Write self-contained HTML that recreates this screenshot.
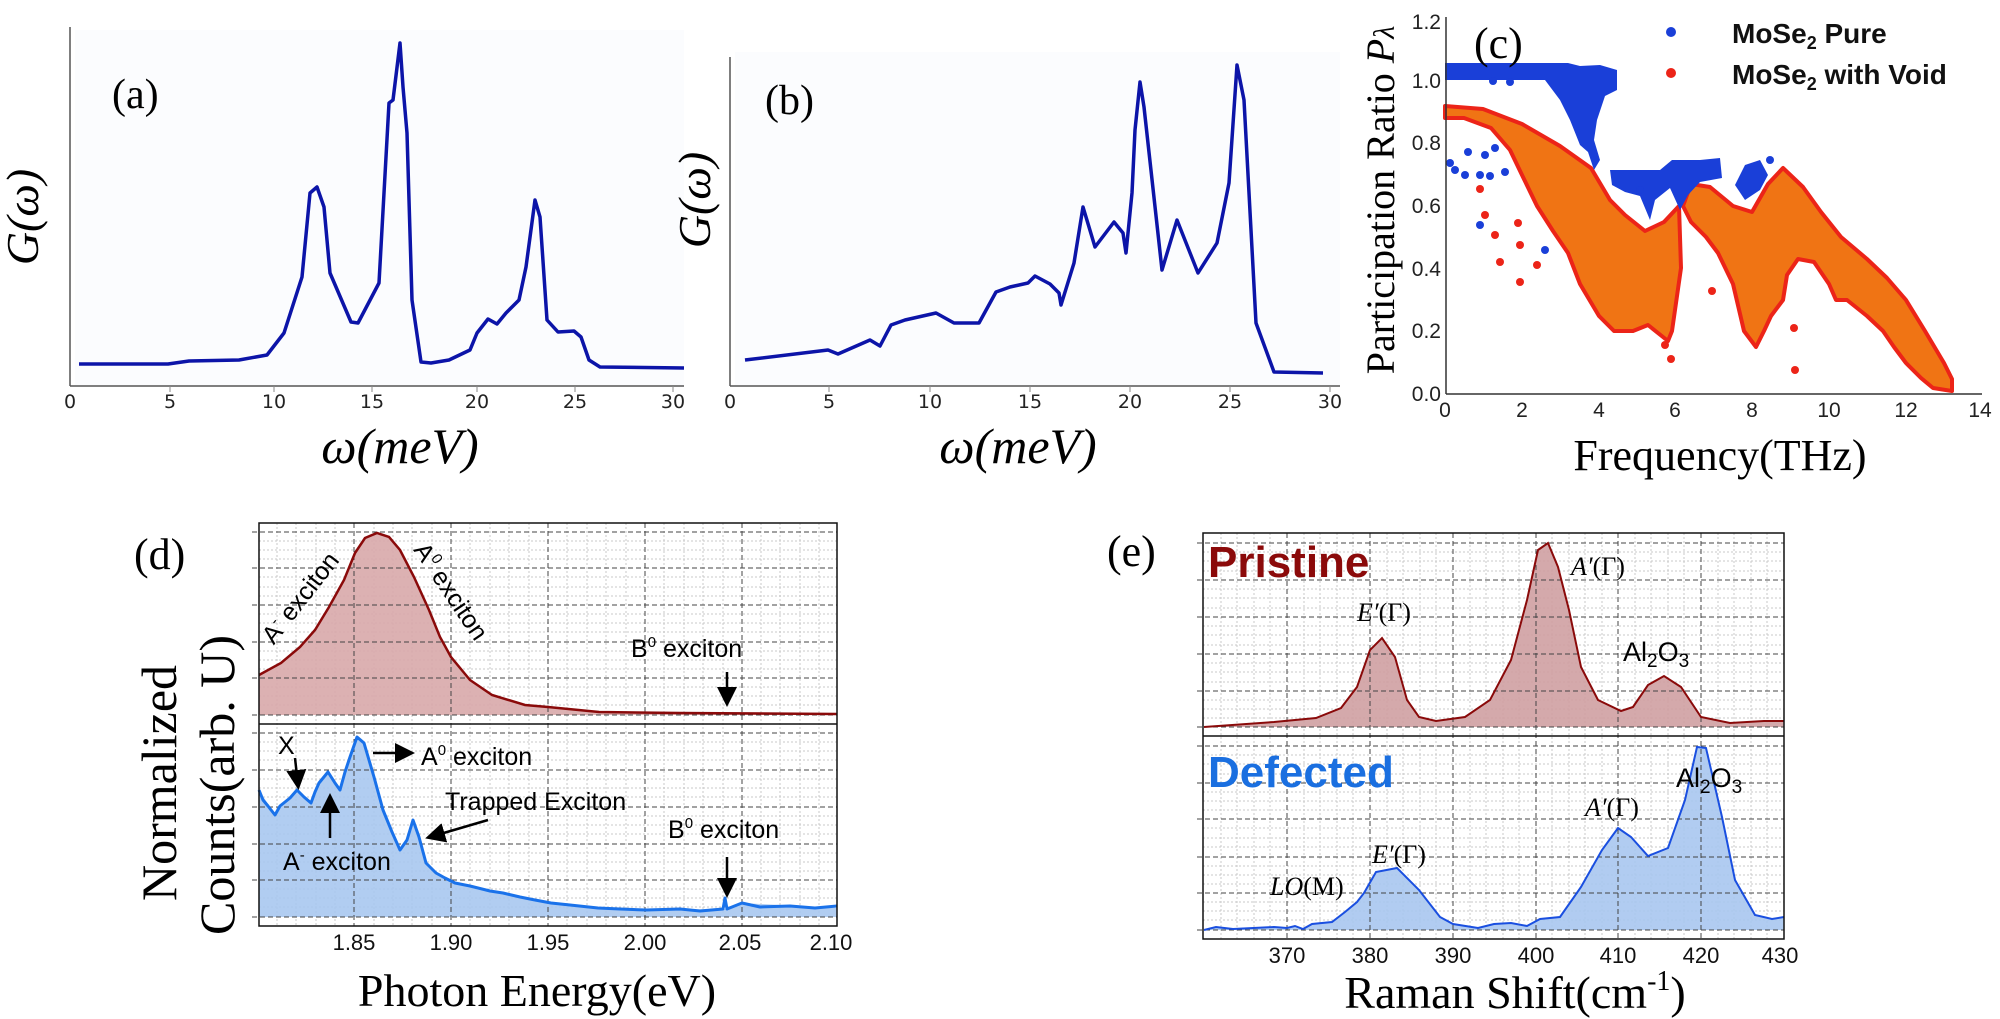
<!DOCTYPE html>
<html><head><meta charset="utf-8"><style>
html,body{margin:0;padding:0;background:#fff;}
svg{display:block;}
.tk{font-family:"DejaVu Sans","Liberation Sans",sans-serif;font-size:19px;fill:#222;}
.nar{font-family:"Liberation Sans Narrow","Liberation Sans",sans-serif;}
.ser{font-family:"Liberation Serif",serif;}
.ann{font-family:"Liberation Sans",sans-serif;font-size:25px;fill:#000;}
</style></head><body>
<svg width="2000" height="1019" viewBox="0 0 2000 1019" xmlns="http://www.w3.org/2000/svg">
<defs>
<marker id="ah" markerWidth="8" markerHeight="8" refX="6" refY="4" orient="auto" markerUnits="strokeWidth">
<path d="M0,0 L8,4 L0,8 z" fill="#000"/></marker>
</defs>

<!-- ===== (a) ===== -->
<rect x="75" y="30" width="609" height="355" fill="#fbfcfe"/>
<line x1="70" y1="27" x2="70" y2="386" stroke="#555" stroke-width="1.5"/>
<line x1="70" y1="386" x2="684" y2="386" stroke="#555" stroke-width="1.5"/>
<g stroke="#888" stroke-width="1">
<line x1="170" y1="386" x2="170" y2="392"/><line x1="274" y1="386" x2="274" y2="392"/><line x1="372" y1="386" x2="372" y2="392"/><line x1="477" y1="386" x2="477" y2="392"/><line x1="575" y1="386" x2="575" y2="392"/><line x1="673" y1="386" x2="673" y2="392"/>
</g>
<g class="tk" text-anchor="middle">
<text x="70" y="408">0</text><text x="170" y="408">5</text><text x="274" y="408">10</text><text x="372" y="408">15</text><text x="477" y="408">20</text><text x="575" y="408">25</text><text x="673" y="408">30</text>
</g>
<polyline fill="none" stroke="#0c14a8" stroke-width="3.5" stroke-linejoin="round" points="79,364 168,364 189,361 239,360 267,355 284,333 302,277 310,193 317,187 324,207 330,273 351,322 358,323 379,283 389,103 393,100 400,43 403,87 407,133 412,300 421,362 431,363 449,360 470,350 477,333 488,319 497,324 506,313 519,300 526,267 535,200 540,217 547,320 558,332 574,331 581,337 589,360 600,367 684,368"/>
<text class="ser" x="112" y="108" font-size="42">(a)</text>
<text class="ser" font-style="italic" font-size="46" text-anchor="middle" transform="translate(38,217) rotate(-90)">G(ω)</text>
<text class="ser" font-style="italic" font-size="50" x="400" y="463" text-anchor="middle">ω(meV)</text>

<!-- ===== (b) ===== -->
<rect x="735" y="52" width="605" height="333" fill="#fbfcfe"/>
<line x1="730" y1="57" x2="730" y2="386" stroke="#555" stroke-width="1.5"/>
<line x1="730" y1="386" x2="1340" y2="386" stroke="#555" stroke-width="1.5"/>
<g stroke="#888" stroke-width="1">
<line x1="829" y1="386" x2="829" y2="392"/><line x1="930" y1="386" x2="930" y2="392"/><line x1="1030" y1="386" x2="1030" y2="392"/><line x1="1130" y1="386" x2="1130" y2="392"/><line x1="1230" y1="386" x2="1230" y2="392"/><line x1="1330" y1="386" x2="1330" y2="392"/>
</g>
<g class="tk" text-anchor="middle">
<text x="730" y="408">0</text><text x="829" y="408">5</text><text x="930" y="408">10</text><text x="1030" y="408">15</text><text x="1130" y="408">20</text><text x="1230" y="408">25</text><text x="1330" y="408">30</text>
</g>
<polyline fill="none" stroke="#0c14a8" stroke-width="3.5" stroke-linejoin="round" points="745,360 828,350 838,354 870,340 880,346 891,325 905,320 936,313 954,323 979,323 996,292 1010,287 1028,283 1035,276 1050,284 1059,293 1061,305 1074,263 1083,207 1095,247 1114,222 1123,233 1126,253 1132,193 1135,130 1140,82 1144,107 1162,270 1177,220 1198,273 1217,243 1229,183 1237,65 1244,100 1256,323 1274,372 1323,373"/>
<text class="ser" x="765" y="114" font-size="42">(b)</text>
<text class="ser" font-style="italic" font-size="46" text-anchor="middle" transform="translate(710,200) rotate(-90)">G(ω)</text>
<text class="ser" font-style="italic" font-size="50" x="1018" y="463" text-anchor="middle">ω(meV)</text>

<!-- ===== (c) ===== -->
<!-- orange blobs -->
<g fill="#f07414" stroke="#ec2418" stroke-width="4" stroke-linejoin="round">
<path d="M1445,106 L1483,109 L1522,124 L1560,146 L1591,168 L1610,200 L1625,215 L1645,231 L1664,222 L1679,206 L1681,268 L1672,331 L1668,341 L1648,325 L1633,331 L1614,331 L1599,316 L1580,284 L1568,253 L1553,231 L1537,206 L1522,175 L1510,150 L1491,128 L1464,118 L1445,118 Z"/>
<path d="M1683,206 L1691,184 L1710,187 L1733,206 L1752,212 L1768,184 L1783,168 L1803,187 L1821,212 L1841,237 L1867,259 L1887,278 L1906,300 L1925,331 L1944,363 L1952,379 L1952,391 L1933,388 L1921,378 L1906,363 L1894,347 L1883,331 L1867,316 L1847,300 L1836,300 L1829,284 L1814,262 L1798,259 L1787,275 L1783,300 L1771,316 L1764,331 L1756,347 L1744,331 L1733,284 L1718,253 L1706,237 L1691,222 Z"/>
</g>
<!-- scattered red dots -->
<g fill="#ec2418">
<circle cx="1480" cy="189" r="4"/><circle cx="1485" cy="215" r="4"/><circle cx="1495" cy="235" r="4"/><circle cx="1500" cy="262" r="4"/><circle cx="1520" cy="245" r="4"/><circle cx="1520" cy="282" r="4"/><circle cx="1537" cy="265" r="4"/><circle cx="1518" cy="223" r="4"/><circle cx="1665" cy="345" r="4"/><circle cx="1671" cy="359" r="4"/><circle cx="1712" cy="291" r="4"/><circle cx="1794" cy="328" r="4"/><circle cx="1795" cy="370" r="4"/>
</g>
<!-- blue -->
<g fill="#1a3fd8">
<path d="M1445,63 L1568,63 L1580,66 L1600,65 L1617,70 L1617,90 L1605,96 L1597,120 L1594,140 L1600,160 L1594,170 L1588,152 L1580,145 L1570,120 L1560,100 L1545,80 L1500,80 L1445,80 Z"/>
<path d="M1610,170 L1640,170 L1660,170 L1672,160 L1700,160 L1720,158 L1722,178 L1700,182 L1688,195 L1680,210 L1670,188 L1655,200 L1650,220 L1640,196 L1625,192 L1612,185 Z"/>
<path d="M1735,185 L1745,165 L1760,160 L1768,175 L1760,190 L1745,200 Z"/>
<circle cx="1450" cy="163" r="4"/><circle cx="1455" cy="170" r="4"/><circle cx="1465" cy="175" r="4"/><circle cx="1468" cy="152" r="4"/><circle cx="1480" cy="175" r="4"/><circle cx="1485" cy="155" r="4"/><circle cx="1490" cy="176" r="4"/><circle cx="1480" cy="225" r="4"/><circle cx="1495" cy="148" r="4"/><circle cx="1505" cy="172" r="4"/><circle cx="1493" cy="81" r="4"/><circle cx="1510" cy="82" r="4"/><circle cx="1545" cy="250" r="4"/><circle cx="1640" cy="190" r="4"/><circle cx="1770" cy="160" r="4"/>
</g>
<line x1="1446" y1="17" x2="1446" y2="394" stroke="#333" stroke-width="1.5"/>
<line x1="1446" y1="394" x2="1982" y2="394" stroke="#333" stroke-width="1.5"/>
<g class="nar" font-size="21" fill="#222" text-anchor="end">
<text x="1441" y="401">0.0</text><text x="1441" y="338">0.2</text><text x="1441" y="276">0.4</text><text x="1441" y="213">0.6</text><text x="1441" y="150">0.8</text><text x="1441" y="88">1.0</text><text x="1441" y="29">1.2</text>
</g>
<g class="nar" font-size="21" fill="#222" text-anchor="middle">
<text x="1445" y="417">0</text><text x="1522" y="417">2</text><text x="1599" y="417">4</text><text x="1675" y="417">6</text><text x="1752" y="417">8</text><text x="1829" y="417">10</text><text x="1906" y="417">12</text><text x="1980" y="417">14</text>
</g>
<text class="ser" font-size="40" text-anchor="middle" transform="translate(1394,200) rotate(-90)">Participation Ratio <tspan font-style="italic">P</tspan><tspan font-style="italic" font-size="30">λ</tspan></text>
<text class="ser" font-size="44" x="1474" y="58">(c)</text>
<text class="ser" font-size="44" x="1720" y="470" text-anchor="middle">Frequency(THz)</text>
<circle cx="1671" cy="32" r="5" fill="#1a3fd8"/>
<circle cx="1671" cy="73" r="5" fill="#ec2418"/>
<text class="nar" font-weight="bold" font-size="28" fill="#111" x="1732" y="43">MoSe<tspan font-size="18" dy="6">2</tspan><tspan dy="-6"> Pure</tspan></text>
<text class="nar" font-weight="bold" font-size="28" fill="#111" x="1732" y="84">MoSe<tspan font-size="18" dy="6">2</tspan><tspan dy="-6"> with Void</tspan></text>

<!-- ===== (d) ===== -->
<g>
<!-- minor grid -->
<g stroke="#c8c8c8" stroke-width="1" stroke-dasharray="2,2">
<line x1="277" y1="523" x2="277" y2="926"/><line x1="296" y1="523" x2="296" y2="926"/><line x1="316" y1="523" x2="316" y2="926"/><line x1="335" y1="523" x2="335" y2="926"/>
<line x1="374" y1="523" x2="374" y2="926"/><line x1="393" y1="523" x2="393" y2="926"/><line x1="412" y1="523" x2="412" y2="926"/><line x1="432" y1="523" x2="432" y2="926"/>
<line x1="470" y1="523" x2="470" y2="926"/><line x1="490" y1="523" x2="490" y2="926"/><line x1="509" y1="523" x2="509" y2="926"/><line x1="529" y1="523" x2="529" y2="926"/>
<line x1="567" y1="523" x2="567" y2="926"/><line x1="587" y1="523" x2="587" y2="926"/><line x1="606" y1="523" x2="606" y2="926"/><line x1="626" y1="523" x2="626" y2="926"/>
<line x1="664" y1="523" x2="664" y2="926"/><line x1="684" y1="523" x2="684" y2="926"/><line x1="703" y1="523" x2="703" y2="926"/><line x1="723" y1="523" x2="723" y2="926"/>
<line x1="761" y1="523" x2="761" y2="926"/><line x1="780" y1="523" x2="780" y2="926"/><line x1="800" y1="523" x2="800" y2="926"/><line x1="819" y1="523" x2="819" y2="926"/>
<line x1="259" y1="541" x2="837" y2="541"/><line x1="259" y1="550" x2="837" y2="550"/><line x1="259" y1="559" x2="837" y2="559"/>
<line x1="259" y1="577" x2="837" y2="577"/><line x1="259" y1="587" x2="837" y2="587"/><line x1="259" y1="596" x2="837" y2="596"/>
<line x1="259" y1="614" x2="837" y2="614"/><line x1="259" y1="623" x2="837" y2="623"/><line x1="259" y1="632" x2="837" y2="632"/>
<line x1="259" y1="651" x2="837" y2="651"/><line x1="259" y1="660" x2="837" y2="660"/><line x1="259" y1="669" x2="837" y2="669"/>
<line x1="259" y1="687" x2="837" y2="687"/><line x1="259" y1="696" x2="837" y2="696"/><line x1="259" y1="705" x2="837" y2="705"/>
<line x1="259" y1="742" x2="837" y2="742"/><line x1="259" y1="751" x2="837" y2="751"/><line x1="259" y1="760" x2="837" y2="760"/>
<line x1="259" y1="779" x2="837" y2="779"/><line x1="259" y1="788" x2="837" y2="788"/><line x1="259" y1="797" x2="837" y2="797"/>
<line x1="259" y1="816" x2="837" y2="816"/><line x1="259" y1="825" x2="837" y2="825"/><line x1="259" y1="834" x2="837" y2="834"/>
<line x1="259" y1="853" x2="837" y2="853"/><line x1="259" y1="862" x2="837" y2="862"/><line x1="259" y1="871" x2="837" y2="871"/>
<line x1="259" y1="889" x2="837" y2="889"/><line x1="259" y1="898" x2="837" y2="898"/><line x1="259" y1="907" x2="837" y2="907"/>
</g>
<!-- fills -->
<path fill="#d8a8aa" fill-opacity="0.9" d="M259,675 L281,663 L300,647 L315,630 L329,607 L344,580 L355,553 L365,538 L377,533 L389,537 L400,550 L414,577 L429,610 L440,637 L451,657 L470,680 L492,695 L525,705 L548,707 L599,712 L680,713 L837,714 L837,715 L259,715 Z"/>
<path fill="#a9c8f0" fill-opacity="0.9" d="M259,790 L275,815 L285,802 L297,790 L304,797 L311,803 L319,783 L328,772 L335,783 L340,790 L350,757 L357,737 L364,743 L374,777 L383,810 L400,850 L407,840 L413,820 L419,837 L426,863 L436,873 L455,883 L503,893 L551,903 L598,908 L646,910 L725,909 L742,903 L837,908 L837,917 L259,917 Z"/>
<!-- major grid -->
<g stroke="#444" stroke-width="1" stroke-dasharray="5,3">
<line x1="354" y1="523" x2="354" y2="926"/><line x1="451" y1="523" x2="451" y2="926"/><line x1="548" y1="523" x2="548" y2="926"/><line x1="645" y1="523" x2="645" y2="926"/><line x1="742" y1="523" x2="742" y2="926"/>
<line x1="252" y1="532" x2="837" y2="532"/><line x1="252" y1="568" x2="837" y2="568"/><line x1="252" y1="605" x2="837" y2="605"/><line x1="252" y1="642" x2="837" y2="642"/><line x1="252" y1="678" x2="837" y2="678"/><line x1="252" y1="715" x2="837" y2="715"/>
<line x1="252" y1="733" x2="837" y2="733"/><line x1="252" y1="770" x2="837" y2="770"/><line x1="252" y1="807" x2="837" y2="807"/><line x1="252" y1="844" x2="837" y2="844"/><line x1="252" y1="880" x2="837" y2="880"/><line x1="252" y1="917" x2="837" y2="917"/>
</g>
<polyline fill="none" stroke="#8a0a0a" stroke-width="2.5" points="259,675 281,663 300,647 315,630 329,607 344,580 355,553 365,538 377,533 389,537 400,550 414,577 429,610 440,637 451,657 470,680 492,695 525,705 548,707 599,712 680,713 837,714"/>
<polyline fill="none" stroke="#1a72ea" stroke-width="3" stroke-linejoin="round" points="259,790 263,800 268,806 275,815 280,806 285,802 290,798 297,790 304,797 311,803 315,792 319,783 328,772 335,783 340,790 345,772 350,757 357,737 364,743 369,760 374,777 383,810 392,832 400,850 407,840 413,820 419,837 426,863 436,873 445,878 455,883 470,886 490,891 503,893 520,897 535,900 551,903 570,905 598,908 620,909 646,910 680,909 700,911 723,909 725,898 727,909 742,903 760,907 790,906 815,908 837,906"/>
<rect x="259" y="523" width="578" height="403" fill="none" stroke="#111" stroke-width="1.5"/>
<line x1="259" y1="724" x2="837" y2="724" stroke="#111" stroke-width="1.5"/>
</g>
<g class="nar" font-size="22" fill="#111" text-anchor="middle">
<text x="354" y="950">1.85</text><text x="451" y="950">1.90</text><text x="548" y="950">1.95</text><text x="645" y="950">2.00</text><text x="740" y="950">2.05</text><text x="831" y="950">2.10</text>
</g>
<text class="ann" transform="translate(307,603) rotate(-52)" text-anchor="middle">A<tspan font-size="15" dy="-10">-</tspan><tspan dy="10"> exciton</tspan></text>
<text class="ann" transform="translate(444,596) rotate(56)" text-anchor="middle">A<tspan font-size="15" dy="-10">0</tspan><tspan dy="10"> exciton</tspan></text>
<text class="ann" x="631" y="657">B<tspan font-size="15" dy="-10">0</tspan><tspan dy="10"> exciton</tspan></text>
<line x1="727" y1="672" x2="727" y2="702" stroke="#000" stroke-width="2.5" marker-end="url(#ah)"/>
<text class="ann" x="278" y="754">X</text>
<line x1="295" y1="758" x2="298" y2="785" stroke="#000" stroke-width="2.5" marker-end="url(#ah)"/>
<text class="ann" x="421" y="765">A<tspan font-size="15" dy="-10">0</tspan><tspan dy="10"> exciton</tspan></text>
<line x1="373" y1="753" x2="410" y2="753" stroke="#000" stroke-width="2.5" marker-end="url(#ah)"/>
<line x1="330" y1="838" x2="330" y2="798" stroke="#000" stroke-width="2.5" marker-end="url(#ah)"/>
<text class="ann" x="283" y="870">A<tspan font-size="15" dy="-10">-</tspan><tspan dy="10"> exciton</tspan></text>
<text class="ann" x="445" y="810">Trapped Exciton</text>
<line x1="488" y1="820" x2="430" y2="837" stroke="#000" stroke-width="2.5" marker-end="url(#ah)"/>
<text class="ann" x="668" y="838">B<tspan font-size="15" dy="-10">0</tspan><tspan dy="10"> exciton</tspan></text>
<line x1="727" y1="857" x2="727" y2="893" stroke="#000" stroke-width="2.5" marker-end="url(#ah)"/>
<text class="ser" font-size="44" x="134" y="569">(d)</text>
<text class="ser" font-size="50" text-anchor="middle" transform="translate(176,783) rotate(-90)">Normalized</text>
<text class="ser" font-size="50" text-anchor="middle" transform="translate(234,785) rotate(-90)">Counts(arb. U)</text>
<text class="ser" font-size="46" x="537" y="1006" text-anchor="middle">Photon Energy(eV)</text>

<!-- ===== (e) ===== -->
<g>
<g stroke="#c8c8c8" stroke-width="1" stroke-dasharray="2,2">
<line x1="1221" y1="533" x2="1221" y2="939"/><line x1="1237" y1="533" x2="1237" y2="939"/><line x1="1254" y1="533" x2="1254" y2="939"/><line x1="1270" y1="533" x2="1270" y2="939"/>
<line x1="1304" y1="533" x2="1304" y2="939"/><line x1="1320" y1="533" x2="1320" y2="939"/><line x1="1337" y1="533" x2="1337" y2="939"/><line x1="1353" y1="533" x2="1353" y2="939"/>
<line x1="1387" y1="533" x2="1387" y2="939"/><line x1="1403" y1="533" x2="1403" y2="939"/><line x1="1420" y1="533" x2="1420" y2="939"/><line x1="1436" y1="533" x2="1436" y2="939"/>
<line x1="1470" y1="533" x2="1470" y2="939"/><line x1="1486" y1="533" x2="1486" y2="939"/><line x1="1503" y1="533" x2="1503" y2="939"/><line x1="1519" y1="533" x2="1519" y2="939"/>
<line x1="1552" y1="533" x2="1552" y2="939"/><line x1="1569" y1="533" x2="1569" y2="939"/><line x1="1585" y1="533" x2="1585" y2="939"/><line x1="1602" y1="533" x2="1602" y2="939"/>
<line x1="1635" y1="533" x2="1635" y2="939"/><line x1="1651" y1="533" x2="1651" y2="939"/><line x1="1668" y1="533" x2="1668" y2="939"/><line x1="1684" y1="533" x2="1684" y2="939"/>
<line x1="1718" y1="533" x2="1718" y2="939"/><line x1="1734" y1="533" x2="1734" y2="939"/><line x1="1751" y1="533" x2="1751" y2="939"/><line x1="1767" y1="533" x2="1767" y2="939"/>
<line x1="1203" y1="552" x2="1784" y2="552"/><line x1="1203" y1="561" x2="1784" y2="561"/><line x1="1203" y1="571" x2="1784" y2="571"/>
<line x1="1203" y1="589" x2="1784" y2="589"/><line x1="1203" y1="598" x2="1784" y2="598"/><line x1="1203" y1="608" x2="1784" y2="608"/>
<line x1="1203" y1="626" x2="1784" y2="626"/><line x1="1203" y1="635" x2="1784" y2="635"/><line x1="1203" y1="645" x2="1784" y2="645"/>
<line x1="1203" y1="663" x2="1784" y2="663"/><line x1="1203" y1="672" x2="1784" y2="672"/><line x1="1203" y1="682" x2="1784" y2="682"/>
<line x1="1203" y1="700" x2="1784" y2="700"/><line x1="1203" y1="709" x2="1784" y2="709"/><line x1="1203" y1="718" x2="1784" y2="718"/>
<line x1="1203" y1="755" x2="1784" y2="755"/><line x1="1203" y1="764" x2="1784" y2="764"/><line x1="1203" y1="774" x2="1784" y2="774"/>
<line x1="1203" y1="792" x2="1784" y2="792"/><line x1="1203" y1="801" x2="1784" y2="801"/><line x1="1203" y1="810" x2="1784" y2="810"/>
<line x1="1203" y1="828" x2="1784" y2="828"/><line x1="1203" y1="838" x2="1784" y2="838"/><line x1="1203" y1="847" x2="1784" y2="847"/>
<line x1="1203" y1="866" x2="1784" y2="866"/><line x1="1203" y1="875" x2="1784" y2="875"/><line x1="1203" y1="884" x2="1784" y2="884"/>
<line x1="1203" y1="902" x2="1784" y2="902"/><line x1="1203" y1="911" x2="1784" y2="911"/><line x1="1203" y1="920" x2="1784" y2="920"/>
</g>
<path fill="#cfa0a2" fill-opacity="0.9" d="M1204,727 L1274,722 L1316,718 L1341,708 L1357,687 L1370,650 L1382,638 L1395,657 L1407,700 L1419,717 L1436,721 L1465,717 L1490,700 L1511,660 L1527,600 L1538,550 L1548,543 L1558,567 L1569,610 L1581,667 L1598,700 L1621,711 L1633,707 L1648,685 L1664,676 L1681,687 L1701,717 L1730,723 L1764,721 L1784,721 L1784,727 Z"/>
<path fill="#a9c6f0" fill-opacity="0.9" d="M1204,930 L1216,927 L1233,929 L1274,927 L1287,928 L1295,926 L1303,929 L1312,924 L1332,922 L1345,912 L1357,902 L1364,893 L1376,872 L1397,868 L1419,890 L1440,917 L1453,924 L1478,928 L1494,924 L1511,923 L1527,926 L1540,919 L1560,917 L1581,887 L1602,850 L1618,828 L1631,837 L1648,856 L1668,848 L1685,800 L1697,747 L1706,748 L1722,817 L1735,880 L1755,915 L1772,919 L1784,917 L1784,930 Z"/>
<g stroke="#444" stroke-width="1" stroke-dasharray="5,3">
<line x1="1287" y1="533" x2="1287" y2="939"/><line x1="1370" y1="533" x2="1370" y2="939"/><line x1="1453" y1="533" x2="1453" y2="939"/><line x1="1536" y1="533" x2="1536" y2="939"/><line x1="1618" y1="533" x2="1618" y2="939"/><line x1="1701" y1="533" x2="1701" y2="939"/>
<line x1="1197" y1="543" x2="1784" y2="543"/><line x1="1197" y1="580" x2="1784" y2="580"/><line x1="1197" y1="617" x2="1784" y2="617"/><line x1="1197" y1="654" x2="1784" y2="654"/><line x1="1197" y1="691" x2="1784" y2="691"/><line x1="1197" y1="727" x2="1784" y2="727"/>
<line x1="1197" y1="746" x2="1784" y2="746"/><line x1="1197" y1="783" x2="1784" y2="783"/><line x1="1197" y1="819" x2="1784" y2="819"/><line x1="1197" y1="857" x2="1784" y2="857"/><line x1="1197" y1="893" x2="1784" y2="893"/><line x1="1197" y1="930" x2="1784" y2="930"/>
</g>
<polyline fill="none" stroke="#8a0a0a" stroke-width="2" points="1204,727 1274,722 1316,718 1341,708 1357,687 1370,650 1382,638 1395,657 1407,700 1419,717 1436,721 1465,717 1490,700 1511,660 1527,600 1538,550 1548,543 1558,567 1569,610 1581,667 1598,700 1621,711 1633,707 1648,685 1664,676 1681,687 1701,717 1730,723 1764,721 1784,721"/>
<polyline fill="none" stroke="#1a4fe0" stroke-width="2" points="1204,930 1216,927 1233,929 1274,927 1287,928 1295,926 1303,929 1312,924 1332,922 1345,912 1357,902 1364,893 1376,872 1397,868 1419,890 1440,917 1453,924 1478,928 1494,924 1511,923 1527,926 1540,919 1560,917 1581,887 1602,850 1618,828 1631,837 1648,856 1668,848 1685,800 1697,747 1706,748 1722,817 1735,880 1755,915 1772,919 1784,917"/>
<rect x="1203" y="533" width="581" height="406" fill="none" stroke="#111" stroke-width="1.5"/>
<line x1="1203" y1="736" x2="1784" y2="736" stroke="#111" stroke-width="1.5"/>
</g>
<g class="nar" font-size="22" fill="#111" text-anchor="middle">
<text x="1287" y="963">370</text><text x="1370" y="963">380</text><text x="1453" y="963">390</text><text x="1536" y="963">400</text><text x="1618" y="963">410</text><text x="1701" y="963">420</text><text x="1780" y="963">430</text>
</g>
<text x="1208" y="577" font-family="Liberation Sans, sans-serif" font-weight="bold" font-size="44" fill="#8b0a0a">Pristine</text>
<text x="1208" y="787" font-family="Liberation Sans, sans-serif" font-weight="bold" font-size="44" fill="#1a6fe0">Defected</text>
<text class="ser" font-size="26" x="1357" y="621"><tspan font-style="italic">E′</tspan>(Γ)</text>
<text class="ser" font-size="26" x="1571" y="575"><tspan font-style="italic">A′</tspan>(Γ)</text>
<text font-family="Liberation Sans, sans-serif" font-size="27" x="1623" y="661">Al<tspan font-size="19" dy="6">2</tspan><tspan dy="-6">O</tspan><tspan font-size="19" dy="6">3</tspan></text>
<text class="ser" font-size="26" x="1270" y="895"><tspan font-style="italic">LO</tspan>(M)</text>
<text class="ser" font-size="26" x="1372" y="863"><tspan font-style="italic">E′</tspan>(Γ)</text>
<text class="ser" font-size="26" x="1585" y="816"><tspan font-style="italic">A′</tspan>(Γ)</text>
<text font-family="Liberation Sans, sans-serif" font-size="27" x="1676" y="787">Al<tspan font-size="19" dy="6">2</tspan><tspan dy="-6">O</tspan><tspan font-size="19" dy="6">3</tspan></text>
<text class="ser" font-size="44" x="1107" y="566">(e)</text>
<text class="ser" font-size="46" x="1515" y="1008" text-anchor="middle">Raman Shift(cm<tspan font-size="28" dy="-18">-1</tspan><tspan dy="18">)</tspan></text>
</svg>
</body></html>
